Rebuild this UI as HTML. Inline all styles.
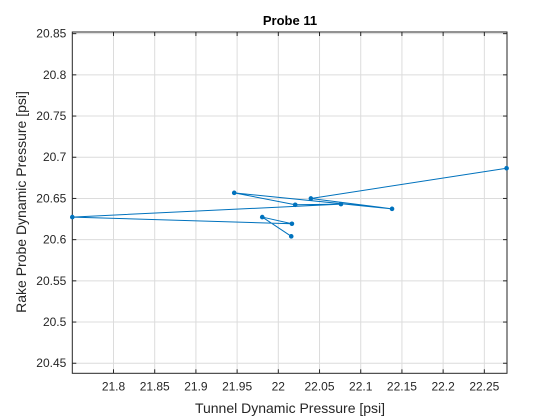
<!DOCTYPE html>
<html><head><meta charset="utf-8"><style>
body{margin:0;background:#fff;}
svg{display:block;font-family:"Liberation Sans",sans-serif;}
</style></head><body>
<svg id="chart" width="560" height="420" xmlns="http://www.w3.org/2000/svg">
<rect width="560" height="420" fill="#fff"/>
<rect x="72.3" y="32" width="434.7" height="341.3" fill="#fff"/>
<g id="grid"></g>
<g id="ticks"></g>
<rect x="72.3" y="32" width="434.7" height="341.3" fill="none" stroke="#262626" stroke-width="1"/>
<g id="series"></g>
<text x="290" y="25" text-anchor="middle" font-size="13" font-weight="bold" fill="#000">Probe 11</text>
<text x="290" y="413" text-anchor="middle" font-size="14" fill="#262626">Tunnel Dynamic Pressure [psi]</text>
<text transform="translate(26,202) rotate(-90)" text-anchor="middle" font-size="14" fill="#262626">Rake Probe Dynamic Pressure [psi]</text>
</svg>
<script>
const xValues = [22.0157, 21.9805, 22.0165, 21.75, 22.076, 22.0205, 21.9465, 22.138, 22.0395, 22.277];
const yValues = [20.604, 20.6274, 20.6193, 20.6274, 20.6431, 20.6423, 20.6568, 20.6374, 20.65, 20.6867];
const xTicks = [21.8, 21.85, 21.9, 21.95, 22, 22.05, 22.1, 22.15, 22.2, 22.25];
const xTickLabels = ["21.8","21.85","21.9","21.95","22","22.05","22.1","22.15","22.2","22.25"];
const yTicks = [20.45, 20.5, 20.55, 20.6, 20.65, 20.7, 20.75, 20.8, 20.85];
const yTickLabels = ["20.45","20.5","20.55","20.6","20.65","20.7","20.75","20.8","20.85"];
const X0=72.3,X1=507,Y0=32,Y1=373.3;
const xMin=21.75,xMax=22.2775,yMin=20.4378,yMax=20.852;
function sx(v){return X0+(v-xMin)/(xMax-xMin)*(X1-X0);}
function sy(v){return Y1-(v-yMin)/(yMax-yMin)*(Y1-Y0);}
const NS="http://www.w3.org/2000/svg";
function mk(tag,attrs,parent){const e=document.createElementNS(NS,tag);for(const k in attrs)e.setAttribute(k,attrs[k]);parent.appendChild(e);return e;}
const grid=document.getElementById('grid'),ticks=document.getElementById('ticks'),series=document.getElementById('series');
xTicks.forEach((t,i)=>{const x=sx(t);
 const g=mk('line',{x1:x,x2:x,y1:Y0,y2:Y1,stroke:'#dcdcdc','stroke-width':1},grid);
 
 
 mk('line',{x1:x,x2:x,y1:Y1,y2:Y1-4,stroke:'#262626'},ticks);
 mk('line',{x1:x,x2:x,y1:Y0,y2:Y0+4,stroke:'#262626'},ticks);
 const l=mk('text',{x:x,y:Y1+17,'text-anchor':'middle','font-size':12,fill:'#262626'},ticks);
 l.textContent=xTickLabels[i];
 
 
});
yTicks.forEach((t,i)=>{const y=sy(t);
 const g=mk('line',{x1:X0,x2:X1,y1:y,y2:y,stroke:'#dcdcdc','stroke-width':1},grid);
 
 
 mk('line',{x1:X0,x2:X0+4,y1:y,y2:y,stroke:'#262626'},ticks);
 mk('line',{x1:X1,x2:X1-4,y1:y,y2:y,stroke:'#262626'},ticks);
 const l=mk('text',{x:X0-6,y:y+4,'text-anchor':'end','font-size':12,fill:'#262626'},ticks);
 l.textContent=yTickLabels[i];
 
 
});
const pts=xValues.map((v,i)=>sx(v)+','+sy(yValues[i])).join(' ');
const pl=mk('polyline',{points:pts,fill:'none',stroke:'#0072bd','stroke-width':1},series);


xValues.forEach((v,i)=>{
 const c=mk('circle',{cx:sx(v),cy:sy(yValues[i]),r:2.3,fill:'#0072bd'},series);
 
 
});
</script>
</body></html>
